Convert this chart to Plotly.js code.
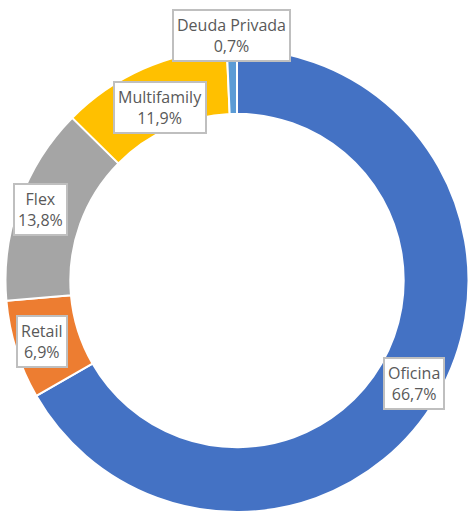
<!DOCTYPE html>
<html><head><meta charset="utf-8">
<script src="https://cdn.plot.ly/plotly-3.0.1.min.js"></script>
<style>html,body{margin:0;padding:0;background:#fff}</style>
</head><body>
<div id="chart" style="width:470px;height:512px"></div>
<script>
const categories = ["Oficina", "Retail", "Flex", "Multifamily", "Deuda Privada"];
const values = [66.7, 6.9, 13.8, 11.9, 0.7];
const percentLabels = ["66,7%", "6,9%", "13,8%", "11,9%", "0,7%"];
const colors = ["#4472C4", "#ED7D31", "#A5A5A5", "#FFC000", "#5B9BD5"];

const W = 470, H = 512;
const margin = {l: 5, r: 1, t: 49, b: 0};
const pw = W - margin.l - margin.r, ph = H - margin.t - margin.b;
const cx = margin.l + pw / 2, cy = margin.t + ph / 2;
const R = Math.min(pw, ph) / 2;
const labelR = [0.885, 0.885, 0.9, 0.82, 1.06];

const total = values.reduce((a, b) => a + b, 0);
let cum = 0;
const annotations = values.map((v, i) => {
  const mid = (cum + v / 2) / total * 2 * Math.PI;
  cum += v;
  const r = R * labelR[i];
  const px = cx + r * Math.sin(mid);
  const py = cy - r * Math.cos(mid);
  return {
    x: (px - margin.l) / pw, y: (H - margin.b - py) / ph,
    xref: 'paper', yref: 'paper', showarrow: false,
    text: categories[i] + '<br>' + percentLabels[i],
    font: {family: 'Open Sans, sans-serif', size: 16, color: '#595959'},
    bgcolor: '#FFFFFF', bordercolor: '#BFBFBF', borderwidth: 2, borderpad: 3,
    xanchor: 'center', yanchor: 'middle'
  };
});

const data = [{
  type: 'pie', labels: categories, values: values, hole: 0.72,
  sort: false, direction: 'clockwise', rotation: 0,
  marker: {colors: colors, line: {color: '#FFFFFF', width: 2}},
  textinfo: 'none', hoverinfo: 'none', showlegend: false,
  domain: {x: [0, 1], y: [0, 1]}
}];
const layout = {
  width: W, height: H, margin: margin,
  paper_bgcolor: '#FFFFFF', plot_bgcolor: '#FFFFFF',
  showlegend: false, annotations: annotations
};
Plotly.newPlot('chart', data, layout, {displayModeBar: false, staticPlot: true});
</script>
</body></html>
